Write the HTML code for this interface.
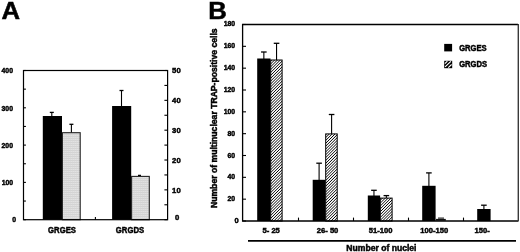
<!DOCTYPE html>
<html><head><meta charset="utf-8"><style>
html,body{margin:0;padding:0;background:#fff;}
svg{display:block;will-change:transform;}
</style></head><body>
<svg width="520" height="252" viewBox="0 0 520 252">
<defs>
<filter id="soft" x="-0.1" y="-0.1" width="1.2" height="1.2"><feGaussianBlur stdDeviation="0.4"/></filter>
<pattern id="grid" patternUnits="userSpaceOnUse" width="2" height="2">
<rect width="2" height="2" fill="#e2e2e2"/>
<rect width="2" height="0.5" fill="#c4c4c4"/>
<rect width="0.5" height="2" fill="#d6d6d6"/>
</pattern>
</defs>
<rect x="0" y="0" width="520" height="252" fill="#fff"/>
<text transform="translate(1.4,19.1) scale(1.07,1)" font-size="24.0" font-family="Liberation Sans, sans-serif" font-weight="bold" stroke="#000" stroke-width="0.5">A</text>
<text transform="translate(208.2,19.1) scale(1.07,1)" font-size="24.0" font-family="Liberation Sans, sans-serif" font-weight="bold" stroke="#000" stroke-width="0.5">B</text>
<line x1="51.80" y1="116.50" x2="51.80" y2="112.40" stroke="#000" stroke-width="1.1"/>
<line x1="49.80" y1="112.40" x2="53.80" y2="112.40" stroke="#000" stroke-width="1.3"/>
<rect x="42.80" y="116.00" width="19.20" height="103.70" fill="#000"/>
<line x1="71.40" y1="133.00" x2="71.40" y2="124.30" stroke="#000" stroke-width="1.1"/>
<line x1="69.40" y1="124.30" x2="73.40" y2="124.30" stroke="#000" stroke-width="1.3"/>
<rect x="62.40" y="132.70" width="17.80" height="87.00" fill="url(#grid)" stroke="#222" stroke-width="1.1"/>
<line x1="121.50" y1="106.50" x2="121.50" y2="90.50" stroke="#000" stroke-width="1.1"/>
<line x1="119.50" y1="90.50" x2="123.50" y2="90.50" stroke="#000" stroke-width="1.3"/>
<rect x="112.10" y="106.00" width="19.10" height="113.70" fill="#000"/>
<line x1="139.50" y1="176.50" x2="139.50" y2="175.40" stroke="#000" stroke-width="1.1"/>
<line x1="138.00" y1="175.40" x2="141.00" y2="175.40" stroke="#000" stroke-width="1.3"/>
<rect x="131.60" y="176.40" width="17.70" height="43.30" fill="url(#grid)" stroke="#222" stroke-width="1.1"/>
<rect x="23.5" y="70.5" width="144.1" height="149.2" fill="none" stroke="#000" stroke-width="1.2"/>
<line x1="23.5" y1="219.70" x2="25.9" y2="219.70" stroke="#000" stroke-width="1.1"/>
<line x1="23.5" y1="201.05" x2="25.9" y2="201.05" stroke="#000" stroke-width="1.1"/>
<line x1="23.5" y1="182.40" x2="25.9" y2="182.40" stroke="#000" stroke-width="1.1"/>
<line x1="23.5" y1="163.75" x2="25.9" y2="163.75" stroke="#000" stroke-width="1.1"/>
<line x1="23.5" y1="145.10" x2="25.9" y2="145.10" stroke="#000" stroke-width="1.1"/>
<line x1="23.5" y1="126.45" x2="25.9" y2="126.45" stroke="#000" stroke-width="1.1"/>
<line x1="23.5" y1="107.80" x2="25.9" y2="107.80" stroke="#000" stroke-width="1.1"/>
<line x1="23.5" y1="89.15" x2="25.9" y2="89.15" stroke="#000" stroke-width="1.1"/>
<line x1="23.5" y1="70.50" x2="25.9" y2="70.50" stroke="#000" stroke-width="1.1"/>
<text transform="translate(13.1,185.10) scale(0.93,1)" font-size="7.4" text-anchor="end" font-family="Liberation Sans, sans-serif" font-weight="bold" stroke="#000" stroke-width="0.45">100</text>
<text transform="translate(13.0,147.80) scale(0.93,1)" font-size="7.4" text-anchor="end" font-family="Liberation Sans, sans-serif" font-weight="bold" stroke="#000" stroke-width="0.45">200</text>
<text transform="translate(13.0,110.50) scale(0.93,1)" font-size="7.4" text-anchor="end" font-family="Liberation Sans, sans-serif" font-weight="bold" stroke="#000" stroke-width="0.45">300</text>
<text transform="translate(13.0,73.20) scale(0.93,1)" font-size="7.4" text-anchor="end" font-family="Liberation Sans, sans-serif" font-weight="bold" stroke="#000" stroke-width="0.45">400</text>
<text transform="translate(16.1,222.40) scale(0.93,1)" font-size="7.4" text-anchor="end" font-family="Liberation Sans, sans-serif" font-weight="bold" stroke="#000" stroke-width="0.45">0</text>
<line x1="164.4" y1="219.70" x2="167.6" y2="219.70" stroke="#000" stroke-width="1.1"/>
<line x1="164.4" y1="204.78" x2="167.6" y2="204.78" stroke="#000" stroke-width="1.1"/>
<line x1="164.4" y1="189.86" x2="167.6" y2="189.86" stroke="#000" stroke-width="1.1"/>
<line x1="164.4" y1="174.94" x2="167.6" y2="174.94" stroke="#000" stroke-width="1.1"/>
<line x1="164.4" y1="160.02" x2="167.6" y2="160.02" stroke="#000" stroke-width="1.1"/>
<line x1="164.4" y1="145.10" x2="167.6" y2="145.10" stroke="#000" stroke-width="1.1"/>
<line x1="164.4" y1="130.18" x2="167.6" y2="130.18" stroke="#000" stroke-width="1.1"/>
<line x1="164.4" y1="115.26" x2="167.6" y2="115.26" stroke="#000" stroke-width="1.1"/>
<line x1="164.4" y1="100.34" x2="167.6" y2="100.34" stroke="#000" stroke-width="1.1"/>
<line x1="164.4" y1="85.42" x2="167.6" y2="85.42" stroke="#000" stroke-width="1.1"/>
<line x1="164.4" y1="70.50" x2="167.6" y2="70.50" stroke="#000" stroke-width="1.1"/>
<text x="176.4" y="192.66" font-size="7.7" text-anchor="middle" font-family="Liberation Sans, sans-serif" font-weight="bold" stroke="#000" stroke-width="0.45">10</text>
<text x="176.4" y="162.82" font-size="7.7" text-anchor="middle" font-family="Liberation Sans, sans-serif" font-weight="bold" stroke="#000" stroke-width="0.45">20</text>
<text x="176.4" y="132.98" font-size="7.7" text-anchor="middle" font-family="Liberation Sans, sans-serif" font-weight="bold" stroke="#000" stroke-width="0.45">30</text>
<text x="176.4" y="103.14" font-size="7.7" text-anchor="middle" font-family="Liberation Sans, sans-serif" font-weight="bold" stroke="#000" stroke-width="0.45">40</text>
<text x="176.4" y="73.30" font-size="7.7" text-anchor="middle" font-family="Liberation Sans, sans-serif" font-weight="bold" stroke="#000" stroke-width="0.45">50</text>
<text x="177.2" y="220.2" font-size="7.7" text-anchor="middle" font-family="Liberation Sans, sans-serif" font-weight="bold" stroke="#000" stroke-width="0.45">0</text>
<line x1="95.4" y1="219.7" x2="95.4" y2="217.1" stroke="#000" stroke-width="1.1"/>
<text transform="translate(62,232.7) scale(0.92,1)" font-size="8.4" text-anchor="middle" font-family="Liberation Sans, sans-serif" font-weight="bold" stroke="#000" stroke-width="0.45">GRGES</text>
<text transform="translate(130,232.7) scale(0.92,1)" font-size="8.4" text-anchor="middle" font-family="Liberation Sans, sans-serif" font-weight="bold" stroke="#000" stroke-width="0.45">GRGDS</text>
<line x1="263.85" y1="59.00" x2="263.85" y2="52.00" stroke="#000" stroke-width="1.1"/>
<line x1="261.05" y1="52.00" x2="266.65" y2="52.00" stroke="#000" stroke-width="1.3"/>
<rect x="257.20" y="58.50" width="13.30" height="162.50" fill="#000"/>
<line x1="276.55" y1="60.00" x2="276.55" y2="43.30" stroke="#000" stroke-width="1.1"/>
<line x1="273.75" y1="43.30" x2="279.35" y2="43.30" stroke="#000" stroke-width="1.3"/>
<clipPath id="c270"><rect x="270.70" y="60.00" width="11.40" height="161.00"/></clipPath>
<rect x="270.70" y="60.00" width="11.40" height="161.00" fill="#fff"/>
<g clip-path="url(#c270)"><path filter="url(#soft)" d="M268.70,57.34L284.10,41.94M268.70,60.20L284.10,44.80M268.70,63.06L284.10,47.66M268.70,65.92L284.10,50.52M268.70,68.78L284.10,53.38M268.70,71.64L284.10,56.24M268.70,74.50L284.10,59.10M268.70,77.36L284.10,61.96M268.70,80.22L284.10,64.82M268.70,83.08L284.10,67.68M268.70,85.94L284.10,70.54M268.70,88.80L284.10,73.40M268.70,91.66L284.10,76.26M268.70,94.52L284.10,79.12M268.70,97.38L284.10,81.98M268.70,100.24L284.10,84.84M268.70,103.10L284.10,87.70M268.70,105.96L284.10,90.56M268.70,108.82L284.10,93.42M268.70,111.68L284.10,96.28M268.70,114.54L284.10,99.14M268.70,117.40L284.10,102.00M268.70,120.26L284.10,104.86M268.70,123.12L284.10,107.72M268.70,125.98L284.10,110.58M268.70,128.84L284.10,113.44M268.70,131.70L284.10,116.30M268.70,134.56L284.10,119.16M268.70,137.42L284.10,122.02M268.70,140.28L284.10,124.88M268.70,143.14L284.10,127.74M268.70,146.00L284.10,130.60M268.70,148.86L284.10,133.46M268.70,151.72L284.10,136.32M268.70,154.58L284.10,139.18M268.70,157.44L284.10,142.04M268.70,160.30L284.10,144.90M268.70,163.16L284.10,147.76M268.70,166.02L284.10,150.62M268.70,168.88L284.10,153.48M268.70,171.74L284.10,156.34M268.70,174.60L284.10,159.20M268.70,177.46L284.10,162.06M268.70,180.32L284.10,164.92M268.70,183.18L284.10,167.78M268.70,186.04L284.10,170.64M268.70,188.90L284.10,173.50M268.70,191.76L284.10,176.36M268.70,194.62L284.10,179.22M268.70,197.48L284.10,182.08M268.70,200.34L284.10,184.94M268.70,203.20L284.10,187.80M268.70,206.06L284.10,190.66M268.70,208.92L284.10,193.52M268.70,211.78L284.10,196.38M268.70,214.64L284.10,199.24M268.70,217.50L284.10,202.10M268.70,220.36L284.10,204.96M268.70,223.22L284.10,207.82M268.70,226.08L284.10,210.68M268.70,228.94L284.10,213.54M268.70,231.80L284.10,216.40M268.70,234.66L284.10,219.26" stroke="#000" stroke-width="1.0" fill="none"/></g>
<rect x="270.70" y="60.00" width="11.40" height="161.00" fill="none" stroke="#000" stroke-width="1.0"/>
<line x1="319.10" y1="180.30" x2="319.10" y2="163.20" stroke="#000" stroke-width="1.1"/>
<line x1="316.30" y1="163.20" x2="321.90" y2="163.20" stroke="#000" stroke-width="1.3"/>
<rect x="312.70" y="179.80" width="12.80" height="41.20" fill="#000"/>
<line x1="331.60" y1="133.90" x2="331.60" y2="114.50" stroke="#000" stroke-width="1.1"/>
<line x1="328.80" y1="114.50" x2="334.40" y2="114.50" stroke="#000" stroke-width="1.3"/>
<clipPath id="c325"><rect x="325.70" y="133.90" width="11.50" height="87.10"/></clipPath>
<rect x="325.70" y="133.90" width="11.50" height="87.10" fill="#fff"/>
<g clip-path="url(#c325)"><path filter="url(#soft)" d="M323.70,131.04L339.20,115.54M323.70,133.90L339.20,118.40M323.70,136.76L339.20,121.26M323.70,139.62L339.20,124.12M323.70,142.48L339.20,126.98M323.70,145.34L339.20,129.84M323.70,148.20L339.20,132.70M323.70,151.06L339.20,135.56M323.70,153.92L339.20,138.42M323.70,156.78L339.20,141.28M323.70,159.64L339.20,144.14M323.70,162.50L339.20,147.00M323.70,165.36L339.20,149.86M323.70,168.22L339.20,152.72M323.70,171.08L339.20,155.58M323.70,173.94L339.20,158.44M323.70,176.80L339.20,161.30M323.70,179.66L339.20,164.16M323.70,182.52L339.20,167.02M323.70,185.38L339.20,169.88M323.70,188.24L339.20,172.74M323.70,191.10L339.20,175.60M323.70,193.96L339.20,178.46M323.70,196.82L339.20,181.32M323.70,199.68L339.20,184.18M323.70,202.54L339.20,187.04M323.70,205.40L339.20,189.90M323.70,208.26L339.20,192.76M323.70,211.12L339.20,195.62M323.70,213.98L339.20,198.48M323.70,216.84L339.20,201.34M323.70,219.70L339.20,204.20M323.70,222.56L339.20,207.06M323.70,225.42L339.20,209.92M323.70,228.28L339.20,212.78M323.70,231.14L339.20,215.64M323.70,234.00L339.20,218.50M323.70,236.86L339.20,221.36" stroke="#000" stroke-width="1.0" fill="none"/></g>
<rect x="325.70" y="133.90" width="11.50" height="87.10" fill="none" stroke="#000" stroke-width="1.0"/>
<line x1="373.95" y1="196.00" x2="373.95" y2="190.30" stroke="#000" stroke-width="1.1"/>
<line x1="371.15" y1="190.30" x2="376.75" y2="190.30" stroke="#000" stroke-width="1.3"/>
<rect x="367.80" y="195.50" width="12.30" height="25.50" fill="#000"/>
<line x1="386.35" y1="198.10" x2="386.35" y2="195.60" stroke="#000" stroke-width="1.1"/>
<line x1="383.55" y1="195.60" x2="389.15" y2="195.60" stroke="#000" stroke-width="1.3"/>
<clipPath id="c380"><rect x="380.30" y="198.10" width="11.80" height="22.90"/></clipPath>
<rect x="380.30" y="198.10" width="11.80" height="22.90" fill="#fff"/>
<g clip-path="url(#c380)"><path filter="url(#soft)" d="M378.30,196.56L394.10,180.76M378.30,199.42L394.10,183.62M378.30,202.28L394.10,186.48M378.30,205.14L394.10,189.34M378.30,208.00L394.10,192.20M378.30,210.86L394.10,195.06M378.30,213.72L394.10,197.92M378.30,216.58L394.10,200.78M378.30,219.44L394.10,203.64M378.30,222.30L394.10,206.50M378.30,225.16L394.10,209.36M378.30,228.02L394.10,212.22M378.30,230.88L394.10,215.08M378.30,233.74L394.10,217.94M378.30,236.60L394.10,220.80" stroke="#000" stroke-width="1.0" fill="none"/></g>
<rect x="380.30" y="198.10" width="11.80" height="22.90" fill="none" stroke="#000" stroke-width="1.0"/>
<line x1="428.90" y1="186.30" x2="428.90" y2="172.90" stroke="#000" stroke-width="1.1"/>
<line x1="426.10" y1="172.90" x2="431.70" y2="172.90" stroke="#000" stroke-width="1.3"/>
<rect x="422.20" y="185.80" width="13.40" height="35.20" fill="#000"/>
<line x1="483.90" y1="209.50" x2="483.90" y2="205.20" stroke="#000" stroke-width="1.1"/>
<line x1="481.10" y1="205.20" x2="486.70" y2="205.20" stroke="#000" stroke-width="1.3"/>
<rect x="477.20" y="209.00" width="13.40" height="12.00" fill="#000"/>
<rect x="436" y="218.9" width="9.8" height="1.8" fill="#111"/>
<line x1="438.0" y1="218.1" x2="444.0" y2="218.1" stroke="#000" stroke-width="1"/>
<path d="M518.0,24.5 L242.6,24.5 L242.6,221.0 L518.0,221.0" fill="none" stroke="#000" stroke-width="1.3"/>
<line x1="518.3" y1="23.9" x2="518.3" y2="221.6" stroke="#3a3a3a" stroke-width="1.4"/>
<line x1="242.6" y1="221.00" x2="246.0" y2="221.00" stroke="#000" stroke-width="1.1"/>
<text x="236.5" y="223.40" font-size="7.5" text-anchor="middle" font-family="Liberation Sans, sans-serif" font-weight="bold" stroke="#000" stroke-width="0.45">0</text>
<line x1="242.6" y1="199.17" x2="246.0" y2="199.17" stroke="#000" stroke-width="1.1"/>
<text transform="translate(235.1,201.17) scale(0.93,1)" font-size="7.4" text-anchor="end" font-family="Liberation Sans, sans-serif" font-weight="bold" stroke="#000" stroke-width="0.45">20</text>
<line x1="242.6" y1="177.33" x2="246.0" y2="177.33" stroke="#000" stroke-width="1.1"/>
<text transform="translate(235.1,179.33) scale(0.93,1)" font-size="7.4" text-anchor="end" font-family="Liberation Sans, sans-serif" font-weight="bold" stroke="#000" stroke-width="0.45">40</text>
<line x1="242.6" y1="155.50" x2="246.0" y2="155.50" stroke="#000" stroke-width="1.1"/>
<text transform="translate(235.1,157.50) scale(0.93,1)" font-size="7.4" text-anchor="end" font-family="Liberation Sans, sans-serif" font-weight="bold" stroke="#000" stroke-width="0.45">60</text>
<line x1="242.6" y1="133.67" x2="246.0" y2="133.67" stroke="#000" stroke-width="1.1"/>
<text transform="translate(235.1,135.67) scale(0.93,1)" font-size="7.4" text-anchor="end" font-family="Liberation Sans, sans-serif" font-weight="bold" stroke="#000" stroke-width="0.45">80</text>
<line x1="242.6" y1="111.83" x2="246.0" y2="111.83" stroke="#000" stroke-width="1.1"/>
<text transform="translate(235.1,113.83) scale(0.93,1)" font-size="7.4" text-anchor="end" font-family="Liberation Sans, sans-serif" font-weight="bold" stroke="#000" stroke-width="0.45">100</text>
<line x1="242.6" y1="90.00" x2="246.0" y2="90.00" stroke="#000" stroke-width="1.1"/>
<text transform="translate(235.1,92.00) scale(0.93,1)" font-size="7.4" text-anchor="end" font-family="Liberation Sans, sans-serif" font-weight="bold" stroke="#000" stroke-width="0.45">120</text>
<line x1="242.6" y1="68.17" x2="246.0" y2="68.17" stroke="#000" stroke-width="1.1"/>
<text transform="translate(235.1,70.17) scale(0.93,1)" font-size="7.4" text-anchor="end" font-family="Liberation Sans, sans-serif" font-weight="bold" stroke="#000" stroke-width="0.45">140</text>
<line x1="242.6" y1="46.33" x2="246.0" y2="46.33" stroke="#000" stroke-width="1.1"/>
<text transform="translate(235.1,48.33) scale(0.93,1)" font-size="7.4" text-anchor="end" font-family="Liberation Sans, sans-serif" font-weight="bold" stroke="#000" stroke-width="0.45">160</text>
<line x1="242.6" y1="24.50" x2="246.0" y2="24.50" stroke="#000" stroke-width="1.1"/>
<text transform="translate(235.1,25.90) scale(0.93,1)" font-size="7.4" text-anchor="end" font-family="Liberation Sans, sans-serif" font-weight="bold" stroke="#000" stroke-width="0.45">180</text>
<line x1="298.50" y1="221.0" x2="298.50" y2="217.6" stroke="#000" stroke-width="1.1"/>
<line x1="353.50" y1="221.0" x2="353.50" y2="217.6" stroke="#000" stroke-width="1.1"/>
<line x1="408.50" y1="221.0" x2="408.50" y2="217.6" stroke="#000" stroke-width="1.1"/>
<line x1="463.50" y1="221.0" x2="463.50" y2="217.6" stroke="#000" stroke-width="1.1"/>
<text x="271.2" y="232.9" font-size="7.6" text-anchor="middle" font-family="Liberation Sans, sans-serif" font-weight="bold" stroke="#000" stroke-width="0.45">5- 25</text>
<text x="327.6" y="232.9" font-size="7.6" text-anchor="middle" font-family="Liberation Sans, sans-serif" font-weight="bold" stroke="#000" stroke-width="0.45">26- 50</text>
<text x="380.6" y="232.9" font-size="7.6" text-anchor="middle" font-family="Liberation Sans, sans-serif" font-weight="bold" stroke="#000" stroke-width="0.45">51-100</text>
<text x="434.2" y="232.9" font-size="7.6" text-anchor="middle" font-family="Liberation Sans, sans-serif" font-weight="bold" stroke="#000" stroke-width="0.45">100-150</text>
<text x="482.2" y="232.9" font-size="7.6" text-anchor="middle" font-family="Liberation Sans, sans-serif" font-weight="bold" stroke="#000" stroke-width="0.45">150-</text>
<line x1="248" y1="240.8" x2="516" y2="240.8" stroke="#000" stroke-width="1.7"/>
<text x="381.4" y="250.8" font-size="8.6" text-anchor="middle" font-family="Liberation Sans, sans-serif" font-weight="bold" stroke="#000" stroke-width="0.45">Number of nuclei</text>
<text transform="translate(217.0,118.2) rotate(-90)" font-size="8.65" text-anchor="middle" font-family="Liberation Sans, sans-serif" font-weight="bold" stroke="#000" stroke-width="0.45">Number of multinuclear TRAP-positive cells</text>
<rect x="444.2" y="43.9" width="7.9" height="7.5" fill="#000"/>
<text transform="translate(459.2,50.9) scale(0.93,1)" font-size="8.2" font-family="Liberation Sans, sans-serif" font-weight="bold" stroke="#000" stroke-width="0.45">GRGES</text>
<rect x="444.2" y="60.8" width="8" height="7.4" fill="#000"/>
<path d="M445.1,66.9 L450.9,61.3 M448.3,67.6 L451.6,64.5 M444.9,63.7 L447.4,61.2" stroke="#fff" stroke-width="1.1" fill="none"/>
<text transform="translate(459.2,67.4) scale(0.93,1)" font-size="8.2" font-family="Liberation Sans, sans-serif" font-weight="bold" stroke="#000" stroke-width="0.45">GRGDS</text>
</svg>
</body></html>
